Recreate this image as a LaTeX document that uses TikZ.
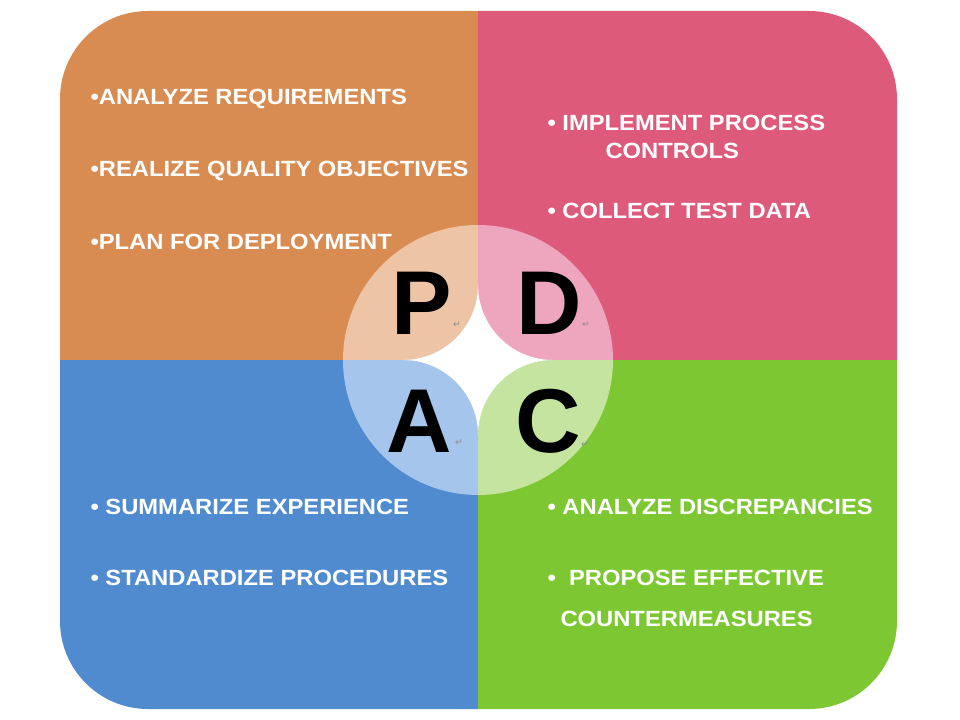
\documentclass[tikz,border=0pt]{standalone}
\usepackage{fontspec}
\setmainfont{Liberation Sans}
\newfontfamily\symfont{DejaVu Sans}

\definecolor{planorange}{RGB}{217,140,82}
\definecolor{dopink}{RGB}{221,90,122}
\definecolor{actblue}{RGB}{80,139,208}
\definecolor{checkgreen}{RGB}{125,200,50}
\definecolor{planlight}{RGB}{238,196,166}
\definecolor{dolight}{RGB}{238,166,190}
\definecolor{actlight}{RGB}{166,197,236}
\definecolor{checklight}{RGB}{196,228,160}

\tikzset{every picture/.style={line width=0.75pt}}
\tikzset{
  itemtext/.style={anchor=west, text=white, font=\bfseries\fontsize{16.5}{18}\selectfont, inner sep=0pt, xscale=1.08},
  bigletter/.style={text=black, font=\bfseries\fontsize{68}{70}\selectfont, inner sep=0pt},
  retmark/.style={text=black!45, font=\symfont\fontsize{7}{8}\selectfont, inner sep=0pt}
}

\begin{document}
\begin{tikzpicture}[x=0.75pt,y=0.75pt,yscale=-1,xscale=1]
\useasboundingbox (0,0) rectangle (960,720);

%Shape: Rounded Rectangle, four quadrants
\begin{scope}
\clip [rounded corners=66pt] (60,11) rectangle (897,709);
\fill [planorange] (40,0) rectangle (478,360);
\fill [dopink] (478,0) rectangle (920,360);
\fill [actblue] (40,360) rectangle (478,720);
\fill [checkgreen] (478,360) rectangle (920,720);
\end{scope}

%Shape: Circle, four light petals
\fill [planlight] (478,360) -- (343,360) arc (180:270:135) -- cycle;
\fill [dolight] (478,360) -- (478,225) arc (270:360:135) -- cycle;
\fill [checklight] (478,360) -- (613,360) arc (0:90:135) -- cycle;
\fill [actlight] (478,360) -- (478,495) arc (90:180:135) -- cycle;

%Shape: Star in the middle
\fill [white] (478,285) arc (0:90:75) arc (-90:0:75) arc (180:270:75) arc (90:180:75) -- cycle;

% Text Node
\node [bigletter] (p) at (422,303) {P};
% Text Node
\node [bigletter] (d) at (549,303) {D};
% Text Node
\node [bigletter] (a) at (419,421) {A};
% Text Node
\node [bigletter] (c) at (548,421) {C};
% Text Node
\node [retmark] (pret) at (457,325) {↵};
% Text Node
\node [retmark] (dret) at (586,325) {↵};
% Text Node
\node [retmark] (aret) at (459,443) {↵};
% Text Node
\node [retmark] (cret) at (585,445) {↵};

% Text Node
\node [itemtext] (plan1) at (90,99) {•ANALYZE REQUIREMENTS};
% Text Node
\node [itemtext] (plan2) at (90,171) {•REALIZE QUALITY OBJECTIVES};
% Text Node
\node [itemtext] (plan3) at (90,242) {•PLAN FOR DEPLOYMENT};
% Text Node
\node [itemtext] (do1) at (547,123) {• IMPLEMENT PROCESS};
% Text Node
\node [itemtext] (do1b) at (605,151) {CONTROLS};
% Text Node
\node [itemtext] (do2) at (547,211) {• COLLECT TEST DATA};
% Text Node
\node [itemtext] (act1) at (90,507) {• SUMMARIZE EXPERIENCE};
% Text Node
\node [itemtext] (act2) at (90,578) {• STANDARDIZE PROCEDURES};
% Text Node
\node [itemtext] (check1) at (547,507) {• ANALYZE DISCREPANCIES};
% Text Node
\node [itemtext] (check2) at (547,578) {•\ \ PROPOSE EFFECTIVE};
% Text Node
\node [itemtext] (check2b) at (560,619) {COUNTERMEASURES};

\end{tikzpicture}
\end{document}
